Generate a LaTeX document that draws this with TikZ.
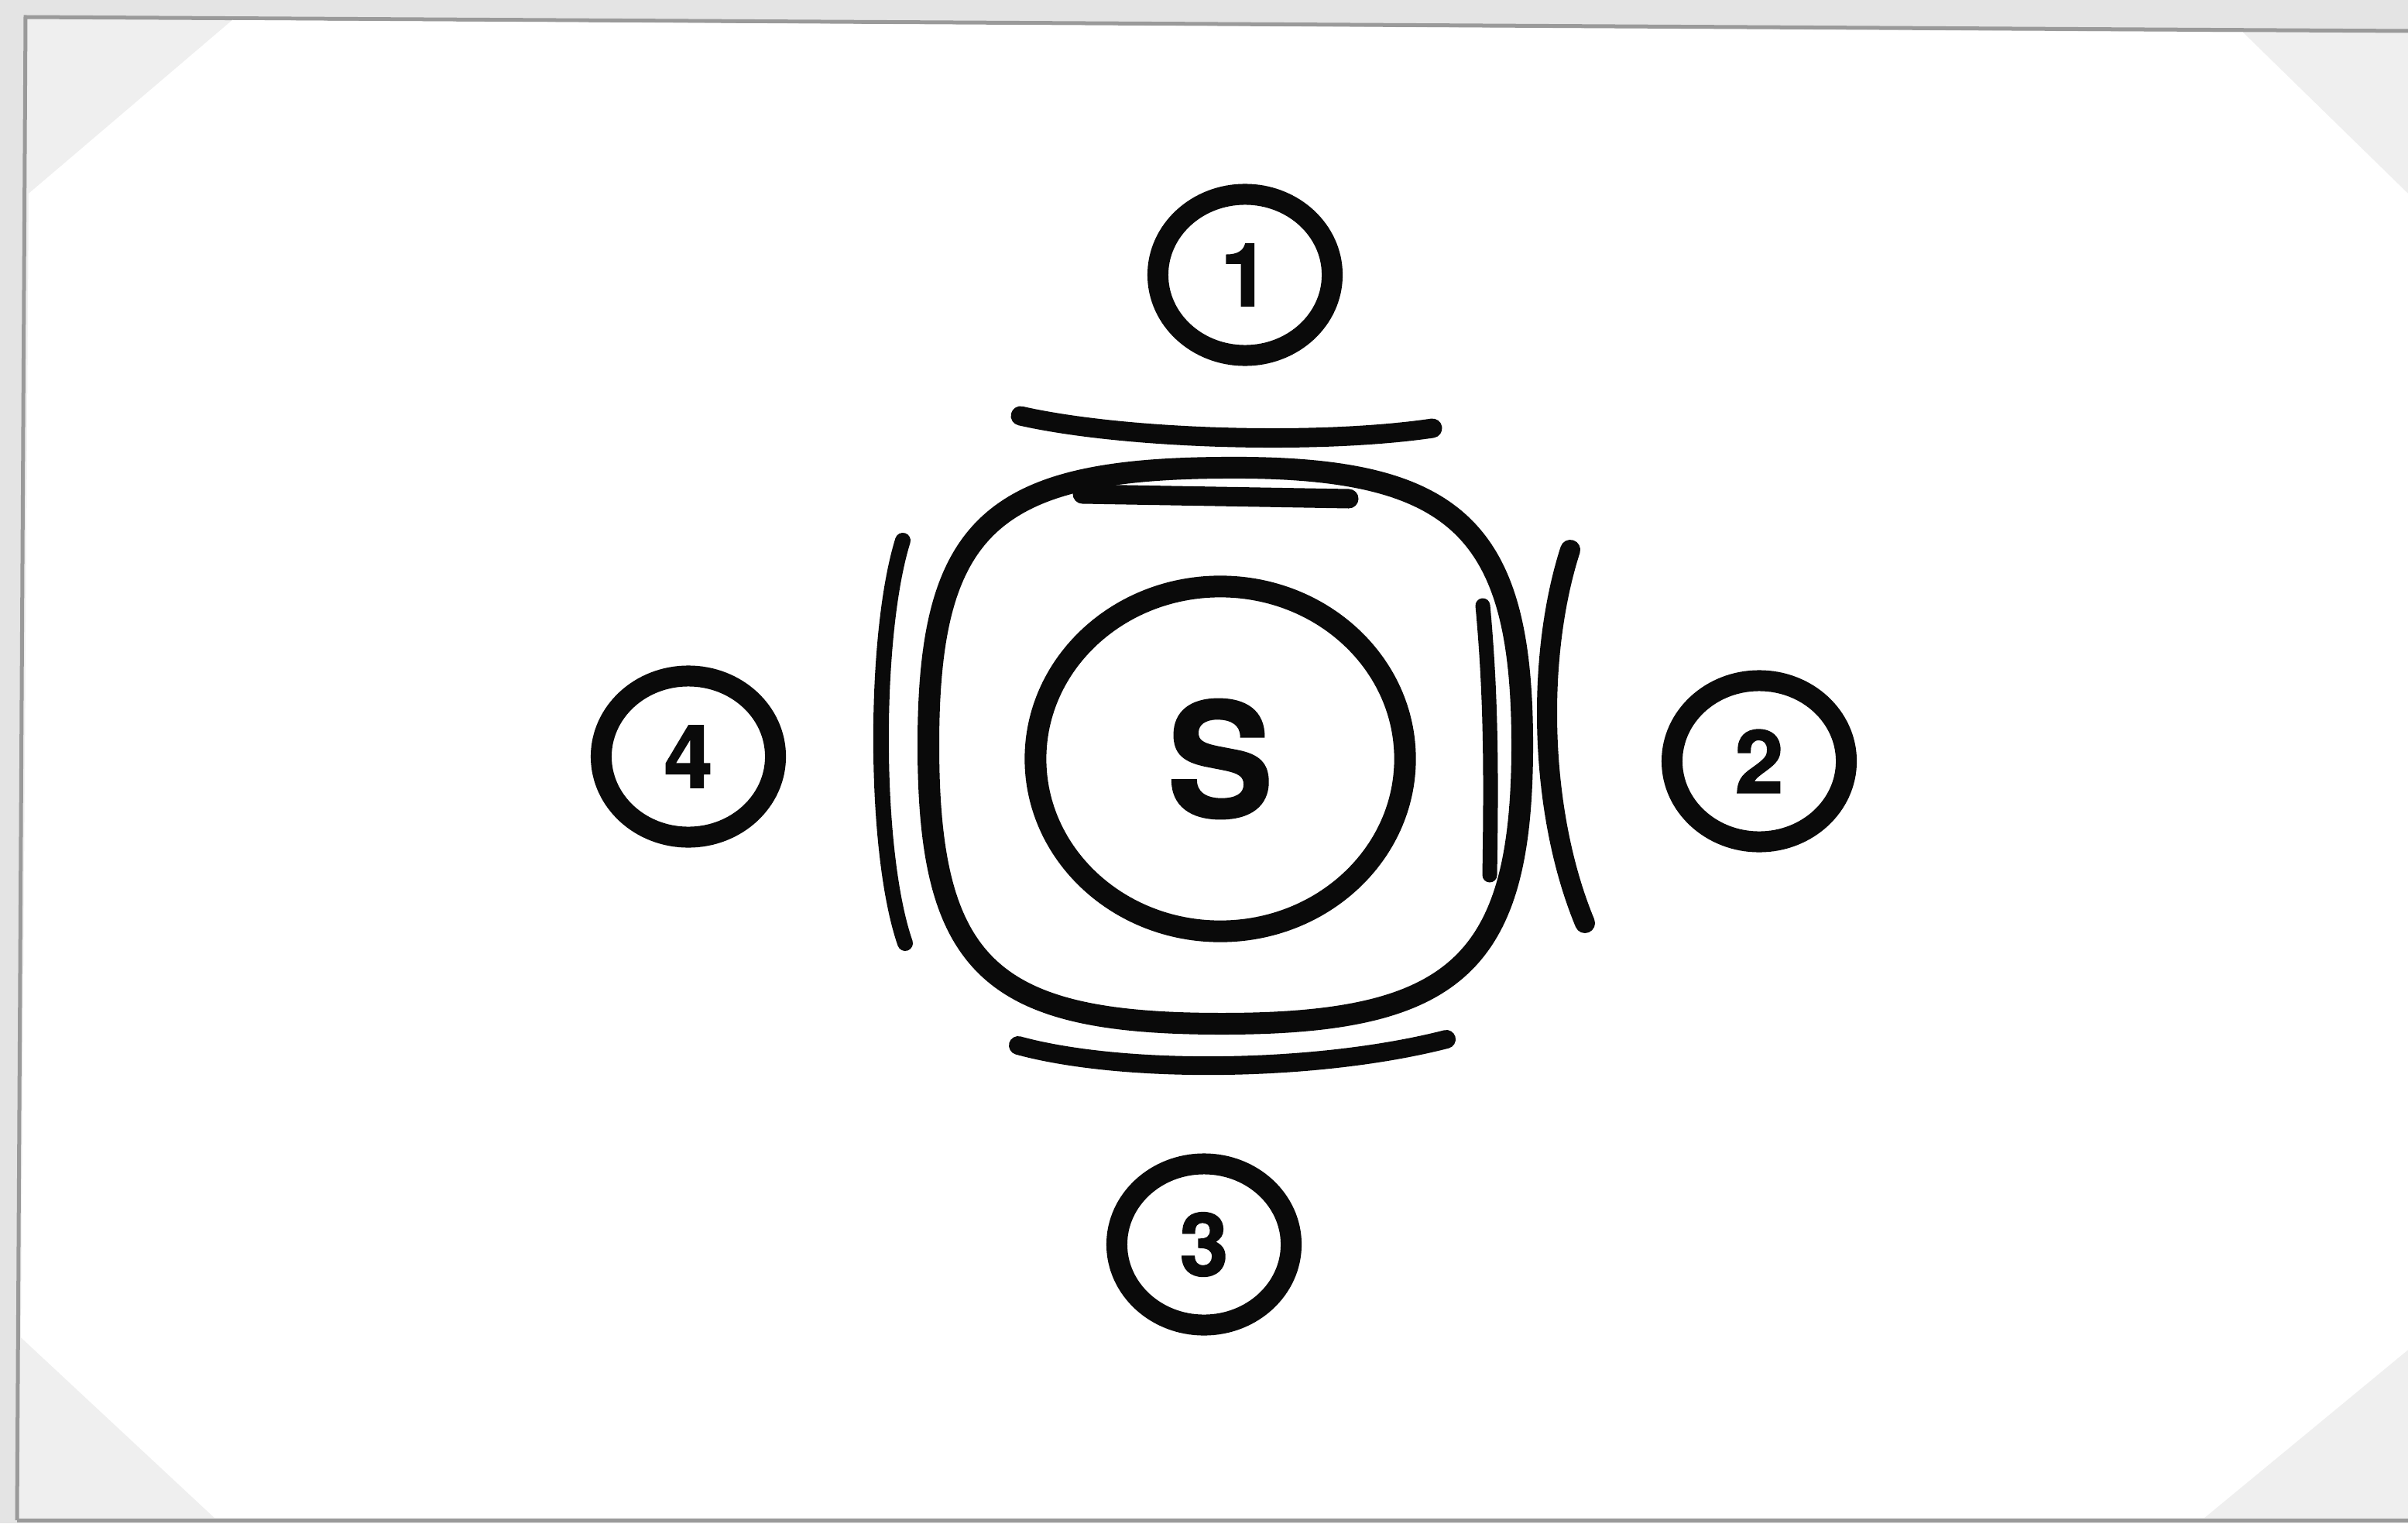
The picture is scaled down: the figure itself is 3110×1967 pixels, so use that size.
\documentclass[tikz,border=0pt]{standalone}
\usepackage{fontspec}
\setmainfont{TeX Gyre Heros}[BoldFeatures={FakeBold=1.6}]
\usetikzlibrary{shapes.geometric}
\definecolor{outgray}{HTML}{E4E4E4}
\definecolor{cutgray}{HTML}{EFEFEF}
\definecolor{edgegray}{HTML}{9A9A9A}
\definecolor{ink}{HTML}{0A0A0A}
\tikzset{
  numc/.style={ellipse, draw=ink, line width=0.27cm, minimum width=2.25cm, minimum height=2.08cm, inner sep=0pt, text=ink, font=\fontsize{32}{35}\selectfont\bfseries},
  bigc/.style={ellipse, draw=ink, line width=0.28cm, minimum width=4.77cm, minimum height=4.45cm, inner sep=0pt, text=ink, font=\fontsize{58}{62}\selectfont\bfseries},
  stroke/.style={draw=ink, line cap=round, line join=round}
}
\begin{document}
\begin{tikzpicture}[x=0.01cm, y=-0.01cm]
\useasboundingbox (0,0) rectangle (3110,1967);
% background (scanned card)
\fill[outgray] (0,0) rectangle (3110,1967);
\fill[cutgray] (33,22) -- (3110,40) -- (3110,1963) -- (22,1963) -- cycle;
\draw[edgegray, line width=0.05cm] (22,1963) -- (33,22) -- (3110,40);
\draw[edgegray, line width=0.05cm] (22,1963) -- (3110,1963);
\fill[white] (300,26) -- (2897,42) -- (3110,250) -- (3110,1743) -- (2847,1960) -- (277,1960) -- (27,1727) -- (37,250) -- cycle;
% rounded square
\draw[stroke, line width=0.28cm]
  (1578,604) .. controls (1880,601) and (1966,680) .. (1966,962)
  .. controls (1966,1245) and (1880,1322) .. (1578,1322)
  .. controls (1280,1322) and (1199,1250) .. (1199,962)
  .. controls (1199,680) and (1280,606) .. (1578,604) -- cycle;
% arcs around the square
\draw[stroke, line width=0.25cm] (1318,537) .. controls (1450,567) and (1700,575) .. (1850,553);
\draw[stroke, line width=0.24cm] (1315,1350) .. controls (1450,1387) and (1700,1385) .. (1868,1342);
\draw[stroke, line width=0.2cm] (1166,698) .. controls (1128,820) and (1128,1100) .. (1169,1218);
\draw[stroke, line width=0.26cm] (2028,710) .. controls (1983,850) and (1988,1050) .. (2047,1192);
% inner bars
\draw[stroke, line width=0.25cm] (1398,638) -- (1742,644);
\draw[stroke, line width=0.19cm] (1915,782) .. controls (1926,900) and (1926,1000) .. (1924,1130);
% central circle
\node[bigc] (s) at (1576,980) {S};
% numbered circles
\node[numc] (n1) at (1608,355) {1};
\node[numc] (n2) at (2272,983) {2};
\node[numc] (n3) at (1555,1607) {3};
\node[numc] (n4) at (889,977) {4};
\end{tikzpicture}
\end{document}
